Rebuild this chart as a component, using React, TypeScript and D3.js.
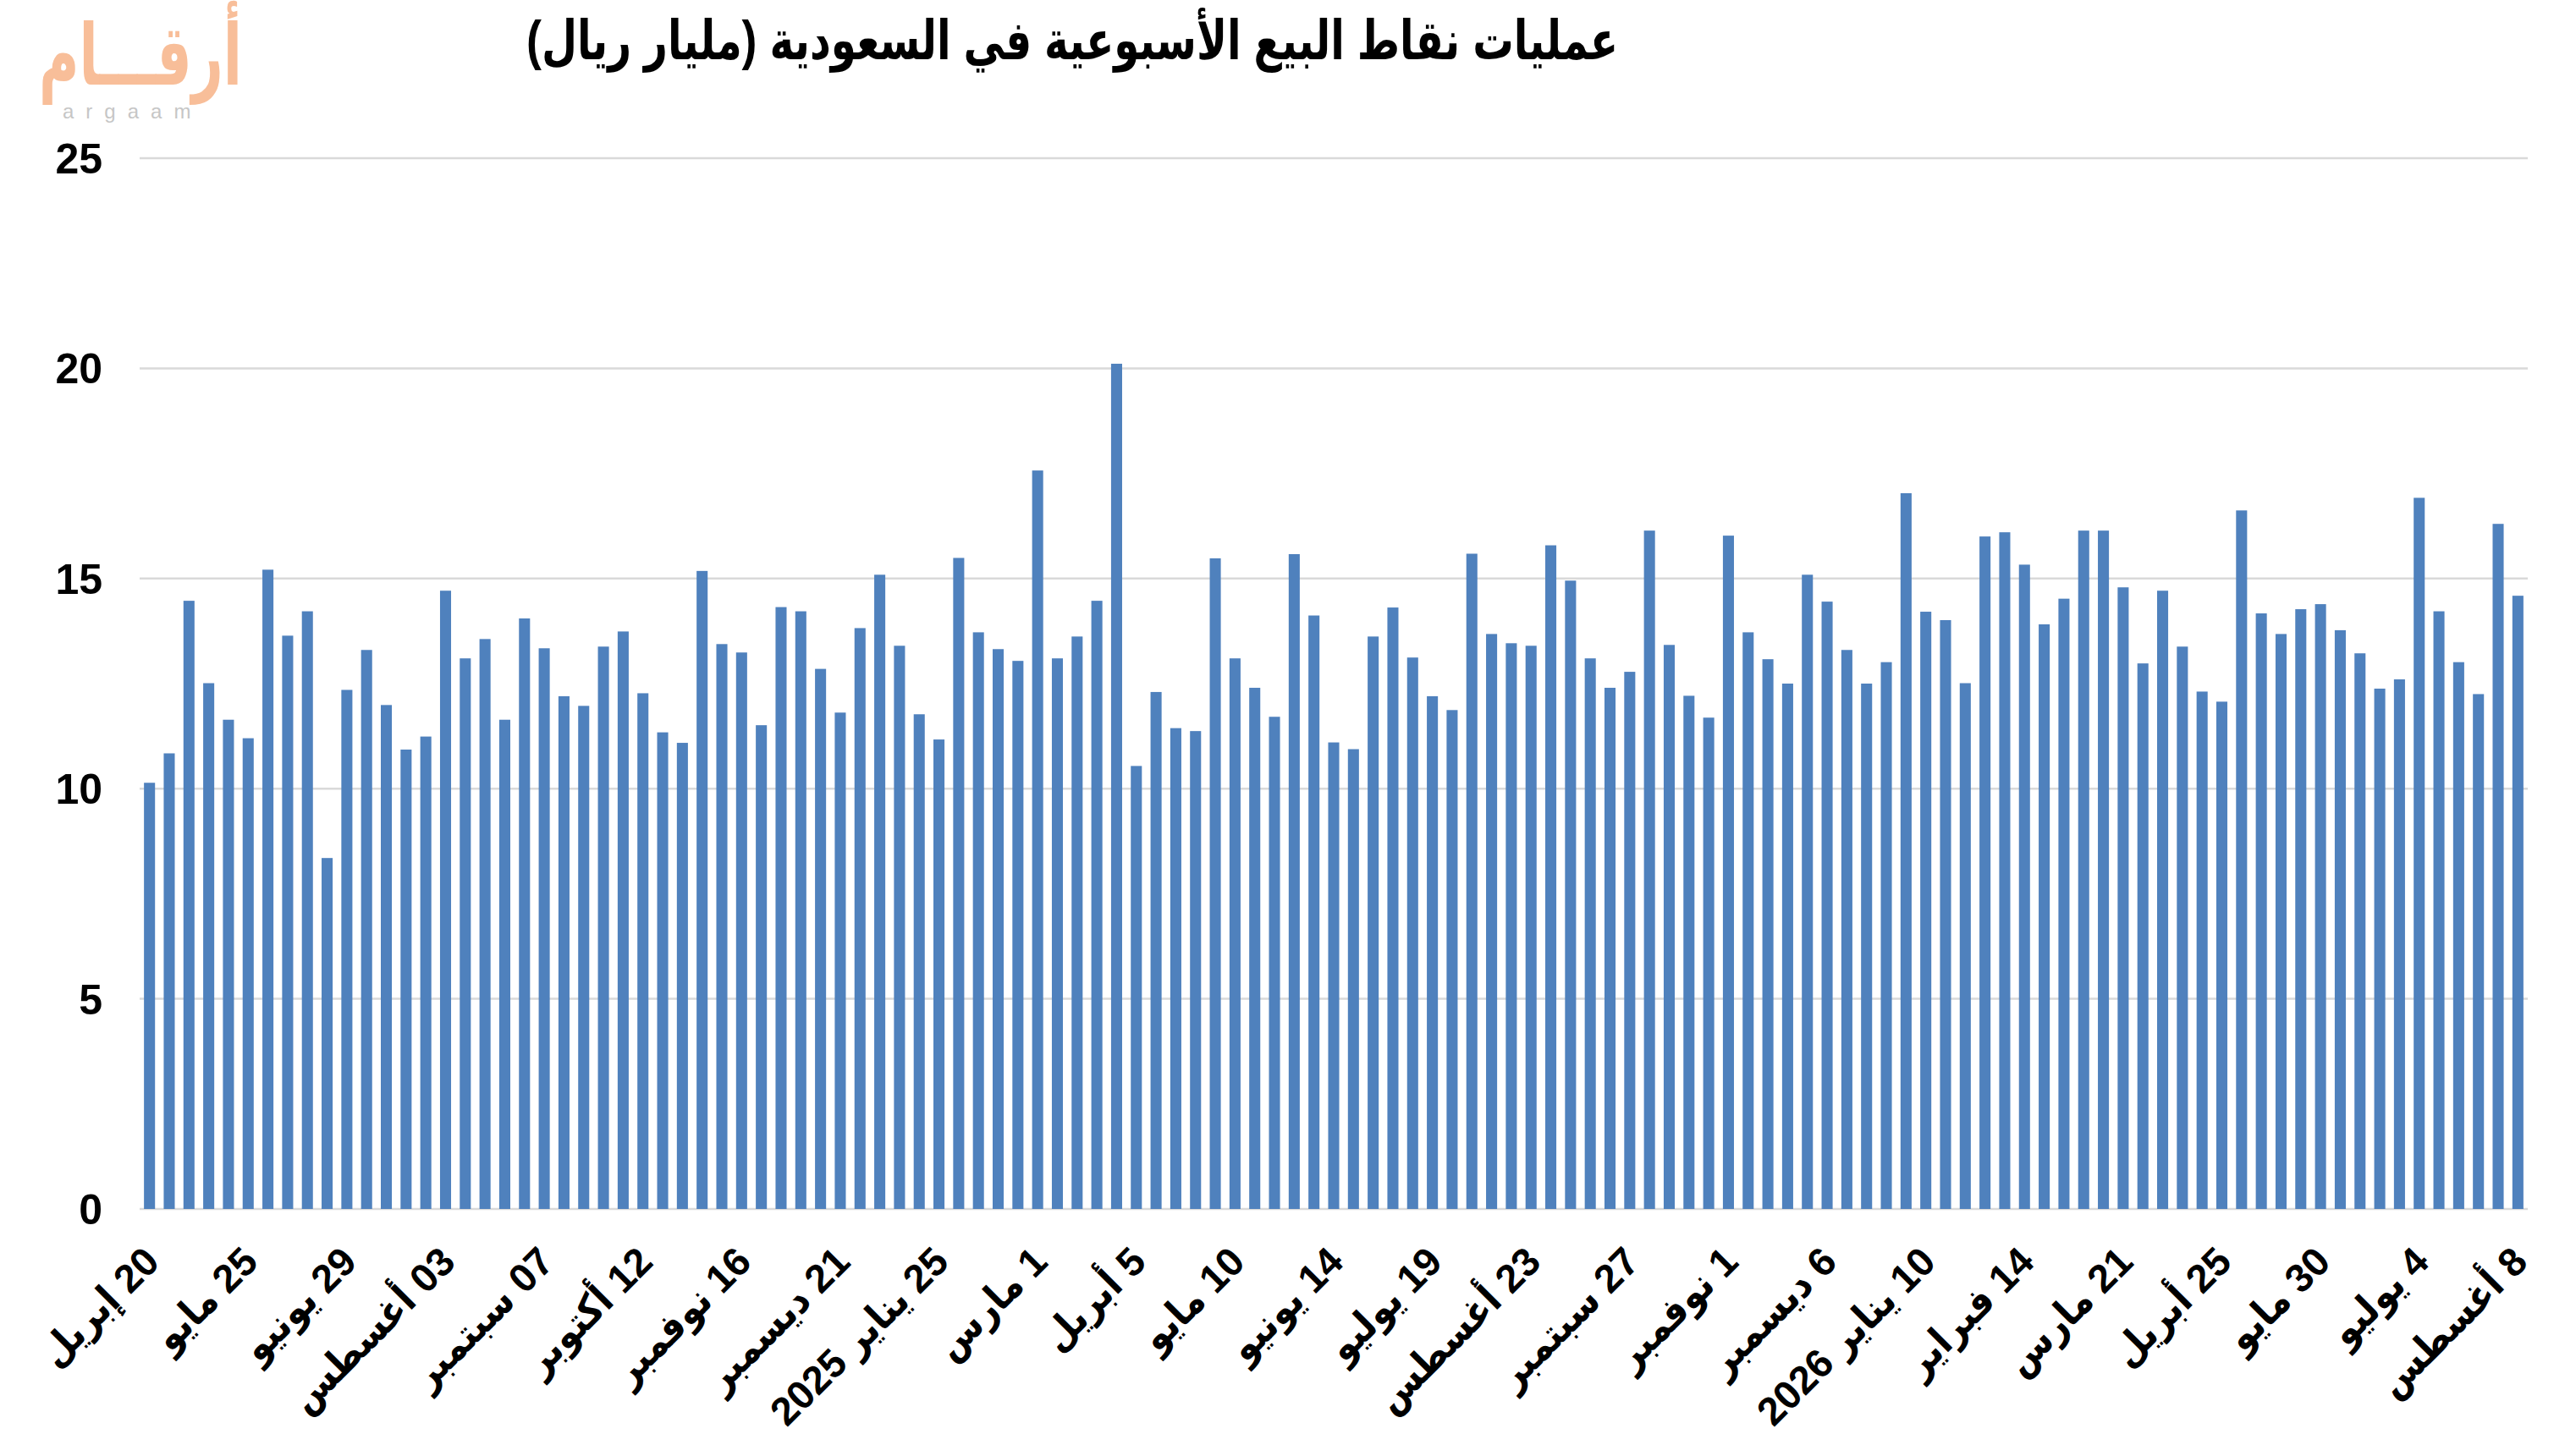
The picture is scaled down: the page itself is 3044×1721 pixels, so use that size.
import React from 'react';
import * as d3 from 'd3';

const W = 3044;
const H = 1721;

// Weekly POS values (billion SAR), left to right
const values: number[] = [
  10.14, 10.84, 14.47, 12.51, 11.64, 11.2, 15.21, 13.64, 14.22, 8.35,
  12.35, 13.3, 11.99, 10.93, 11.24, 14.71, 13.1, 13.56, 11.64, 14.05,
  13.34, 12.2, 11.97, 13.38, 13.74, 12.27, 11.34, 11.09, 15.18, 13.44,
  13.24, 11.51, 14.32, 14.22, 12.85, 11.81, 13.82, 15.09, 13.4, 11.77,
  11.17, 15.49, 13.72, 13.32, 13.04, 17.57, 13.1, 13.62, 14.47, 20.11,
  10.54, 12.3, 11.44, 11.37, 15.48, 13.1, 12.4, 11.71, 15.58, 14.12,
  11.1, 10.94, 13.62, 14.31, 13.12, 12.2, 11.87, 15.59, 13.68, 13.46,
  13.4, 15.79, 14.95, 13.1, 12.4, 12.78, 16.14, 13.42, 12.21, 11.69,
  16.02, 13.72, 13.08, 12.5, 15.09, 14.45, 13.3, 12.5, 13.01, 17.03,
  14.21, 14.01, 12.51, 16.0, 16.1, 15.33, 13.91, 14.52, 16.14, 16.14,
  14.79, 12.98, 14.71, 13.38, 12.31, 12.07, 16.62, 14.17, 13.68, 14.27,
  14.39, 13.77, 13.22, 12.38, 12.6, 16.92, 14.22, 13.01, 12.25, 16.3,
  14.59,
];

// One category per week
const categories: number[] = values.map((_, i) => i);

// Tick labels shown every 5th week
const tickLabels: string[] = [
  '20 إبريل', '25 مايو', '29 يونيو', '03 أغسطس', '07 سبتمبر', '12 أكتوبر',
  '16 نوفمبر', '21 ديسمبر', '25 يناير 2025', '1 مارس', '5 أبريل', '10 مايو',
  '14 يونيو', '19 يوليو', '23 أغسطس', '27 سبتمبر', '1 نوفمبر', '6 ديسمبر',
  '10 يناير 2026', '14 فبراير', '21 مارس', '25 أبريل', '30 مايو', '4 يوليو',
  '8 أغسطس',
];
const tickStep = 5;

const yTicks: number[] = [0, 5, 10, 15, 20, 25];

const title = 'عمليات نقاط البيع الأسبوعية في السعودية (مليار ريال)';

const FONT = "'Liberation Sans', Arial, 'DejaVu Sans', sans-serif";
const FONT_AR = "'Liberation Sans', Arial, 'DejaVu Sans Condensed', 'DejaVu Sans', sans-serif";
const RLE = '\u202B';
const PDF = '\u202C';

export default function App() {
  const x = d3
    .scaleBand<number>()
    .domain(categories)
    .range([165, 2987])
    .paddingInner(0.44)
    .paddingOuter(0.22);
  const y = d3.scaleLinear().domain([0, 25]).range([1429, 187]);

  return (
    <svg
      width={W}
      height={H}
      viewBox={`0 0 ${W} ${H}`}
      style={{ position: 'absolute', left: 0, top: 0, background: '#fff' }}
    >
      <rect x={0} y={0} width={W} height={H} fill="#fff" />
      {/* logo */}
      <text
        x={286}
        y={100}
        textAnchor="end"
        fontFamily={FONT_AR}
        fontWeight="bold"
        fontSize={100}
        fill="#F8BE99"
        textLength={240}
        lengthAdjust="spacingAndGlyphs"
      >
        {RLE + 'أرقـــام' + PDF}
      </text>
      <text
        x={74}
        y={140}
        fontFamily={FONT}
        fontSize={24}
        fill="#C6C6C6"
        letterSpacing={14}
      >
        argaam
      </text>
      {/* title */}
      <text
        x={1912}
        y={70}
        textAnchor="end"
        fontFamily={FONT_AR}
        fontWeight="bold"
        fontSize={64}
        fill="#000"
        textLength={1290}
        lengthAdjust="spacingAndGlyphs"
      >
        {RLE + title + PDF}
      </text>
      {/* gridlines */}
      {yTicks.map((t) => (
        <line
          key={'g' + t}
          x1={165}
          x2={2987}
          y1={y(t)}
          y2={y(t)}
          stroke="#D9D9D9"
          strokeWidth={2.5}
        />
      ))}
      {/* y labels */}
      {yTicks.map((t) => (
        <text
          key={'yl' + t}
          x={121}
          y={y(t)}
          dy="0.36em"
          textAnchor="end"
          fontFamily={FONT}
          fontWeight="bold"
          fontSize={50}
          fill="#000"
        >
          {t}
        </text>
      ))}
      {/* bars */}
      {values.map((v, i) => (
        <rect
          key={'b' + i}
          x={x(categories[i])}
          y={y(v)}
          width={x.bandwidth()}
          height={y(0) - y(v)}
          fill="#4F81BD"
        />
      ))}
      {/* x labels */}
      {tickLabels.map((lab, k) => {
        const cx = (x(categories[k * tickStep]) ?? 0) + x.bandwidth() / 2;
        return (
          <text
            key={'xl' + k}
            transform={`translate(${cx + 14},${1494}) rotate(-45)`}
            textAnchor="end"
            fontFamily={FONT_AR}
            fontWeight="bold"
            fontSize={47}
            fill="#000"
          >
            {RLE + lab + PDF}
          </text>
        );
      })}
    </svg>
  );
}
